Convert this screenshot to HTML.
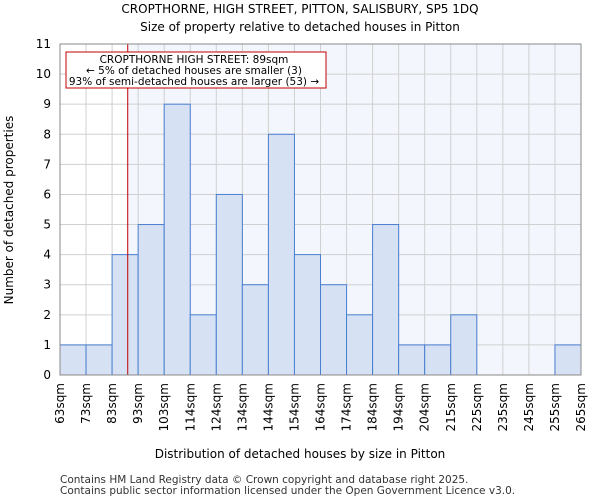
<!DOCTYPE html>
<html><head><meta charset="utf-8"><style>
body{margin:0;background:#fff;font-family:"DejaVu Sans","Liberation Sans",sans-serif}
</style></head><body>
<svg width="600" height="500" xmlns="http://www.w3.org/2000/svg" font-family="DejaVu Sans, Liberation Sans, sans-serif">
<text x="300" y="13" text-anchor="middle" font-size="12">CROPTHORNE, HIGH STREET, PITTON, SALISBURY, SP5 1DQ</text>
<text x="300" y="31" text-anchor="middle" font-size="12">Size of property relative to detached houses in Pitton</text>
<g id="plot"></g>
<text x="300" y="458" text-anchor="middle" font-size="12">Distribution of detached houses by size in Pitton</text>
<text transform="translate(13,210) rotate(-90)" text-anchor="middle" font-size="12">Number of detached properties</text>
<text x="60" y="483" font-size="10.5" fill="#333">Contains HM Land Registry data © Crown copyright and database right 2025.</text>
<text x="60" y="494" font-size="10.5" fill="#333">Contains public sector information licensed under the Open Government Licence v3.0.</text>
</svg>
<script>
const categories=["63sqm","73sqm","83sqm","93sqm","103sqm","114sqm","124sqm","134sqm","144sqm","154sqm","164sqm","174sqm","184sqm","194sqm","204sqm","215sqm","225sqm","235sqm","245sqm","255sqm","265sqm"];
const counts=[1,1,4,5,9,2,6,3,8,4,3,2,5,1,1,2,0,0,0,1];
const yTicks=[0,1,2,3,4,5,6,7,8,9,10,11];
const markerBinPos=[2.6];
const NS="http://www.w3.org/2000/svg";
const L=60,R=581,T=44,B=375,yMax=11;
const bw=(R-L)/counts.length;
const x=i=>L+i*bw, y=v=>B-(v/yMax)*(B-T);
const g=document.getElementById('plot');
function mk(tag,a){const e=document.createElementNS(NS,tag);for(const k in a)e.setAttribute(k,a[k]);g.appendChild(e);return e;}
const mx=x(markerBinPos[0]);
let e=mk('rect',{x:L,y:T,width:R-L,height:B-T,fill:'#fff'});


e=mk('rect',{x:mx,y:T,width:R-mx,height:B-T,fill:'#f3f6fd'});


yTicks.forEach(t=>{
 e=mk('line',{x1:L,x2:R,y1:y(t),y2:y(t),stroke:'#d0d0d0','stroke-width':1});
 
 
 e=mk('text',{x:L-9,y:y(t)+4,'text-anchor':'end','font-size':12});
 e.textContent=t;
 
 
});
categories.forEach((c,i)=>{
 e=mk('line',{x1:x(i),x2:x(i),y1:T,y2:B,stroke:'#d0d0d0','stroke-width':1});
 
 
 const t=mk('text',{transform:`translate(${x(i)+4},${B+8}) rotate(-90)`,'text-anchor':'end','font-size':12});
 t.textContent=c;
 
 
});
counts.forEach((v,i)=>{
 if(v<=0)return;
 e=mk('rect',{x:x(i),y:y(v),width:bw,height:y(0)-y(v),fill:'#d6e1f4',stroke:'#4a7fd0','stroke-width':1});
 
 
});
e=mk('line',{x1:mx,x2:mx,y1:T,y2:B,stroke:'#c00000','stroke-width':1});


e=mk('rect',{x:66,y:52,width:260,height:36,fill:'#fff',stroke:'#c00000','stroke-width':1});


[["CROPTHORNE HIGH STREET: 89sqm",63],["← 5% of detached houses are smaller (3)",74],["93% of semi-detached houses are larger (53) →",85]].forEach(([s,yy])=>{
 e=mk('text',{x:194,y:yy,'text-anchor':'middle','font-size':10.5});
 e.textContent=s;
 
 
});
e=mk('rect',{x:L,y:T,width:R-L,height:B-T,fill:'none',stroke:'#888','stroke-width':1});


</script>
</body></html>
